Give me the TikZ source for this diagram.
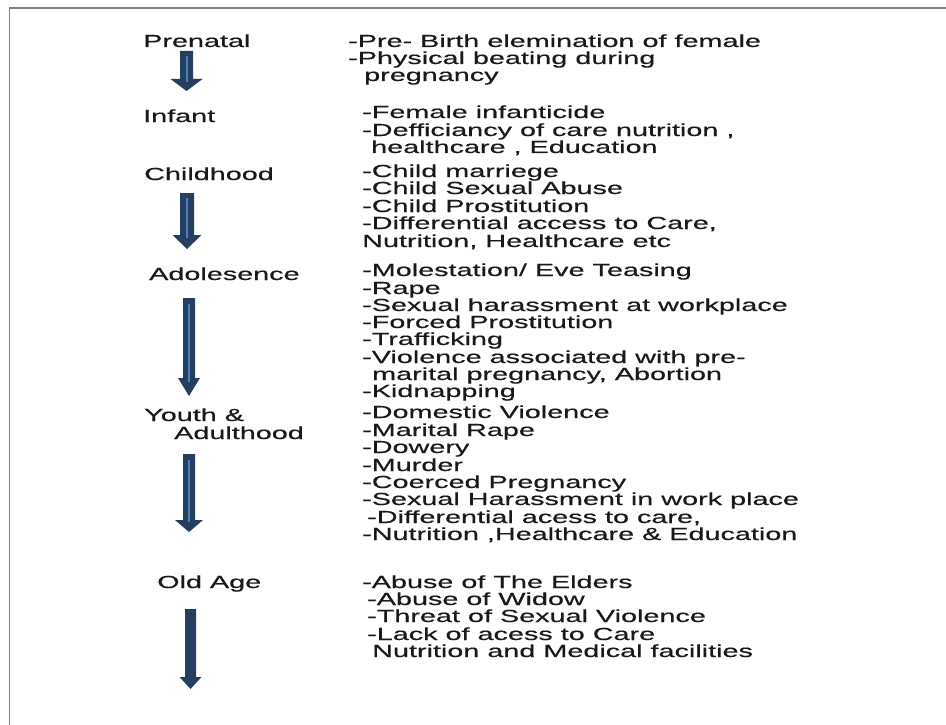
\documentclass[tikz,border=0pt]{standalone}
\usepackage{fontspec}
\setmainfont{Liberation Sans}[FakeStretch=1.645,FakeBold=0.4]
\definecolor{navy}{HTML}{243F60}
\definecolor{lblue}{HTML}{4F81BD}
\definecolor{framegray}{HTML}{808080}
\newcommand\bigarr[6]{% cx, top, headstart, tip, shaft half, head half
  \fill[navy] (#1-#5,#2) -- (#1+#5,#2) -- (#1+#5,#3) -- (#1+#6,#3) -- (#1,#4) -- (#1-#6,#3) -- (#1-#5,#3) -- cycle;}
\newcommand\innerline[3]{\draw[lblue, line width=2] (#1,#2) -- (#1,#3);}
\begin{document}
\begin{tikzpicture}[x=1pt,y=-1pt,
  txt/.style={anchor=base west, inner sep=0pt, font=\fontsize{17.5}{17.5}\selectfont, text=black!90}]
\useasboundingbox (0,0) rectangle (946,725);
\fill[white] (0,0) rectangle (946,725);
\draw[framegray, line width=1.5] (946,8) -- (9.5,8) -- (9.5,725);

% stage labels
\node[txt] (pre) at (143,47) {Prenatal};
\node[txt] (inf) at (143,122) {Infant};
\node[txt] (chi) at (144,180) {Childhood};
\node[txt] (ado) at (149,280) {Adolesence};
\node[txt] (you1) at (144,421) {Youth \&};
\node[txt] (you2) at (174,439) {Adulthood};
\node[txt] (old) at (157,588) {Old Age};

% arrows
\bigarr{186.5}{51}{79}{91}{6.5}{16}
\innerline{186.5}{56}{82}
\bigarr{187}{193}{235}{249}{7}{14.5}
\innerline{187}{198}{238}
\bigarr{189}{298}{378}{396}{6}{11}
\innerline{189}{304}{382}
\bigarr{189}{454}{520}{532}{6}{14}
\innerline{189}{460}{522}
\bigarr{190.5}{609}{677}{689}{5.5}{11}

% right column
\node[txt] (a1) at (348,47) {-Pre- Birth elemination of female};
\node[txt] (a2) at (348,64) {-Physical beating during};
\node[txt] (a3) at (364,81) {pregnancy};

\node[txt] (b1) at (362,118) {-Female infanticide};
\node[txt] (b2) at (362,136) {-Defficiancy of care nutrition ,};
\node[txt] (b3) at (371,153) {healthcare , Education};

\node[txt] (c1) at (362,177) {-Child marriege};
\node[txt] (c2) at (362,194) {-Child Sexual Abuse};
\node[txt] (c3) at (362,212) {-Child Prostitution};
\node[txt] (c4) at (362,229) {-Differential access to Care,};
\node[txt] (c5) at (362,247) {Nutrition, Healthcare etc};

\node[txt] (d1) at (362,276) {-Molestation/ Eve Teasing};
\node[txt] (d2) at (362,294) {-Rape};
\node[txt] (d3) at (362,311) {-Sexual harassment at workplace};
\node[txt] (d4) at (362,328) {-Forced Prostitution};
\node[txt] (d5) at (362,345) {-Trafficking};
\node[txt] (d6) at (362,363) {-Violence associated with pre-};
\node[txt] (d7) at (372,380) {marital pregnancy, Abortion};
\node[txt] (d8) at (362,397) {-Kidnapping};

\node[txt] (e1) at (362,418) {-Domestic Violence};
\node[txt] (e2) at (362,436) {-Marital Rape};
\node[txt] (e3) at (362,453) {-Dowery};
\node[txt] (e4) at (362,471) {-Murder};
\node[txt] (e5) at (362,488) {-Coerced Pregnancy};
\node[txt] (e6) at (362,505) {-Sexual Harassment in work place};
\node[txt] (e7) at (367,523) {-Differential acess to care,};
\node[txt] (e8) at (362,540) {-Nutrition ,Healthcare \& Education};

\node[txt] (f1) at (362,588) {-Abuse of The Elders};
\node[txt] (f2) at (367,605) {-Abuse of Widow};
\node[txt] (f3) at (367,622) {-Threat of Sexual Violence};
\node[txt] (f4) at (367,640) {-Lack of acess to Care};
\node[txt] (f5) at (372,657) {Nutrition and Medical facilities};
\end{tikzpicture}
\end{document}
